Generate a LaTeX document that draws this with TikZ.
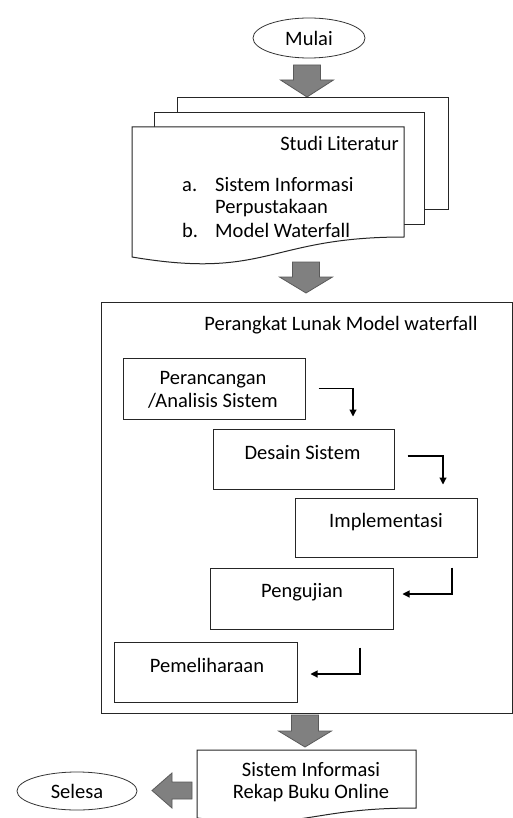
\documentclass[tikz,border=0pt]{standalone}
\usepackage{fontspec}
\setmainfont{Carlito}
\usetikzlibrary{shapes.geometric,arrows.meta,calc}
\tikzset{
  txt/.style={inner sep=0pt,font=\fontsize{20.5}{23.5}\selectfont,align=center},
  pbox/.style={draw=black!85,line width=1pt,fill=white,inner sep=0pt},
  oval/.style={ellipse,draw=black!80,line width=0.8pt,fill=white,inner sep=0pt},
  docline/.style={draw=black!85,line width=1pt,fill=white},
  blk/.style={fill={rgb,255:red,128;green,128;blue,128},draw={rgb,255:red,90;green,90;blue,90},line width=0.8pt,line join=miter},
  conn/.style={draw=black,line width=1.1pt,-{Triangle[length=7pt,width=7pt]}}
}
\newcommand{\blkdown}[4]{%
  \draw[blk] ({#1-13.5},#2) -- ({#1+13.5},#2) -- ({#1+13.5},#3) -- ({#1+26.5},#3) -- (#1,#4) -- ({#1-26.5},#3) -- ({#1-13.5},#3) -- cycle;}
\begin{document}
\begin{tikzpicture}[x=1pt,y=-1pt]
\useasboundingbox (0,0) rectangle (513,818);
\fill[white] (0,0) rectangle (513,818);

% start
\node[oval,minimum width=112pt,minimum height=40pt] (mulai) at (309,38) {};
\node[txt] at (309,38) {Mulai};
\blkdown{307}{65}{80}{97}

% multi document
\draw[docline] (177,98) rectangle (448,210);
\draw[docline] (154,113) rectangle (424,225);
\draw[docline] (132,127) -- (404,127) -- (404,237) .. controls (268,237) and (268,280) .. (132,257) -- cycle;
\coordinate (studi) at (268,127);
\node[txt,anchor=east] at (399,143) {Studi Literatur};
\node[txt,anchor=base west] at (182,192) {a.};
\node[txt,anchor=base west] at (215,192) {Sistem Informasi};
\node[txt,anchor=base west] at (215,214) {Perpustakaan};
\node[txt,anchor=base west] at (182,237) {b.};
\node[txt,anchor=base west] at (215,237) {Model Waterfall};
\blkdown{306}{262}{277}{293}

% big box
\node[draw=black!85,line width=1pt,inner sep=0pt,minimum width=411pt,minimum height=411pt] (sw) at (306.5,507.5) {};
\node[txt] at (341,325) {Perangkat Lunak Model waterfall};

% process boxes
\node[pbox,minimum width=182pt,minimum height=61pt] (b1) at (214,388.5) {};
\node[txt] at (213,390) {Perancangan\\/Analisis Sistem};
\node[pbox,minimum width=181pt,minimum height=60pt] (b2) at (303.5,459) {};
\node[txt] at (302.5,453) {Desain Sistem};
\node[pbox,minimum width=182pt,minimum height=59pt] (b3) at (386,527.5) {};
\node[txt] at (386,522) {Implementasi};
\node[pbox,minimum width=183pt,minimum height=61pt] (b4) at (301.5,598.5) {};
\node[txt] at (302,592) {Pengujian};
\node[pbox,minimum width=183pt,minimum height=60pt] (b5) at (205.5,672) {};
\node[txt] at (207,665) {Pemeliharaan};

% connectors
\draw[conn] ([xshift=13pt]b1.east) -| ([xshift=49.5pt,yshift=12pt]b2.north);
\draw[conn] ([xshift=13pt,yshift=3pt]b2.east) -| ([xshift=57pt,yshift=13pt]b3.north);
\draw[conn] ([xshift=66pt,yshift=-10pt]b3.south) |- ([xshift=9pt,yshift=4.5pt]b4.east);
\draw[conn] ([xshift=58.5pt,yshift=-18pt]b4.south) |- ([xshift=13pt,yshift=-2pt]b5.east);

\blkdown{305}{715}{731}{747}

% final document
\begin{scope}
\clip (0,0) rectangle (513,818);
\draw[docline] (197,750) -- (416,750) -- (416,808) .. controls (306.5,808) and (306.5,831) .. (197,818) -- cycle;
\end{scope}
\coordinate (hasil) at (306.5,750);
\node[txt] at (311,770) {Sistem Informasi};
\node[txt] at (311,793) {Rekap Buku Online};

% left block arrow
\draw[blk] (192,782) -- (192,799) -- (172,799) -- (172,808) -- (152,790.5) -- (172,773) -- (172,782) -- cycle;

\node[oval,minimum width=120pt,minimum height=38pt] (selesa) at (77,791) {};
\node[txt] at (77,791) {Selesa};
\end{tikzpicture}
\end{document}
